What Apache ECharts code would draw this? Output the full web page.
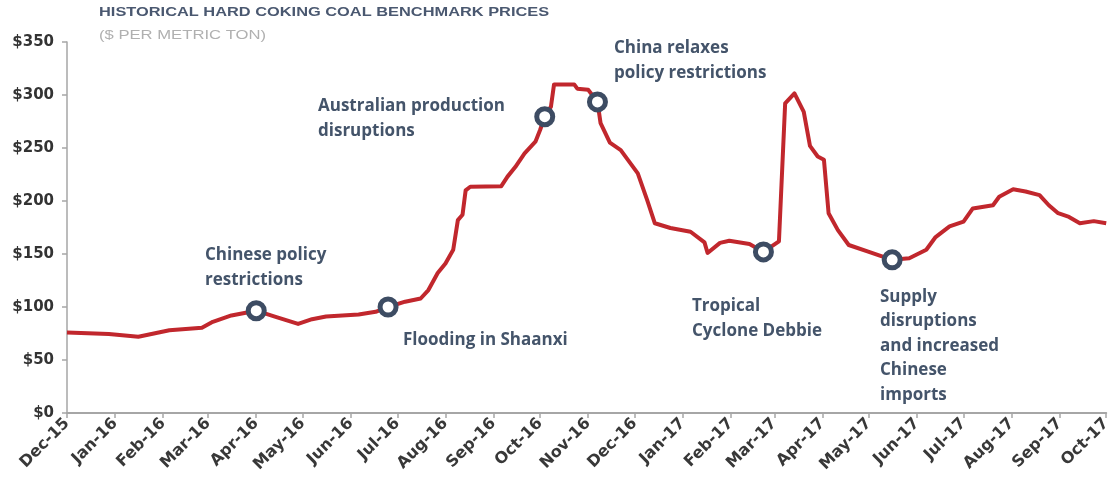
<!DOCTYPE html>
<html>
<head>
<meta charset="utf-8">
<script src="https://cdn.jsdelivr.net/npm/echarts@6/dist/echarts.min.js"></script>
<style>
  html, body { margin: 0; padding: 0; background: #fff; }
  #main { width: 1114px; height: 486px; }
</style>
</head>
<body>
<div id="main"></div>
<script>
// weekly-ish benchmark readings (US$ per metric ton)
const dates = [
  "2015-12-01", "2015-12-28", "2016-01-16", "2016-02-05", "2016-02-26", "2016-03-04",
  "2016-03-16", "2016-04-01", "2016-04-13", "2016-04-28", "2016-05-07", "2016-05-16",
  "2016-06-06", "2016-06-17", "2016-06-25", "2016-07-06", "2016-07-16", "2016-07-21",
  "2016-07-27", "2016-08-01", "2016-08-06", "2016-08-09", "2016-08-12", "2016-08-14",
  "2016-08-17", "2016-09-06", "2016-09-10", "2016-09-15", "2016-09-21", "2016-09-28",
  "2016-10-01", "2016-10-04", "2016-10-08", "2016-10-10", "2016-10-23", "2016-10-25",
  "2016-11-01", "2016-11-07", "2016-11-09", "2016-11-15", "2016-11-22", "2016-12-03",
  "2016-12-09", "2016-12-14", "2016-12-24", "2017-01-06", "2017-01-15", "2017-01-17",
  "2017-01-25", "2017-01-31", "2017-02-13", "2017-02-22", "2017-03-04", "2017-03-08",
  "2017-03-14", "2017-03-20", "2017-03-24", "2017-03-29", "2017-04-02", "2017-04-05",
  "2017-04-11", "2017-04-18", "2017-05-01", "2017-05-16", "2017-05-27", "2017-06-07",
  "2017-06-13", "2017-06-22", "2017-07-01", "2017-07-07", "2017-07-20", "2017-07-24",
  "2017-08-02", "2017-08-10", "2017-08-19", "2017-08-25", "2017-08-31", "2017-09-07",
  "2017-09-14", "2017-09-23", "2017-10-01"
];
const prices = [
  76, 74.5, 72, 78, 80.5, 86,
  92, 96.5, 91, 84, 88.5, 91,
  93, 95.5, 100, 105, 108, 116,
  132, 141, 154, 182, 187, 210,
  213.5, 214, 223, 232, 245, 256,
  267, 279.5, 289, 310, 310, 306,
  305, 293.5, 273.5, 255, 248, 226,
  201, 179, 174.5, 171, 161, 151,
  160.5, 162.5, 159.5, 152, 162, 292,
  301.5, 284, 252, 242, 239, 188.5,
  172.5, 158.5, 152, 144.5, 146, 154,
  166, 176, 180.5, 193, 196, 204,
  211, 209, 205.5, 196, 188.5, 185,
  179, 181, 179
];

// events marked with rings
const eventDates = ["2016-04-01", "2016-06-25", "2016-10-04", "2016-11-07", "2017-02-22", "2017-05-16"];
const eventPrices = [96.5, 100, 279.5, 293.5, 152, 144.5];
const eventNotes = [
  "Chinese policy\nrestrictions",
  "Flooding in Shaanxi",
  "Australian production\ndisruptions",
  "China relaxes\npolicy restrictions",
  "Tropical\nCyclone Debbie",
  "Supply\ndisruptions\nand increased\nChinese\nimports"
];
const notePos = [[205, 243], [403, 328], [318, 94], [614, 36], [692, 294], [880, 285]];

const yTicks = [0, 50, 100, 150, 200, 250, 300, 350];
const monthNames = ["Jan", "Feb", "Mar", "Apr", "May", "Jun", "Jul", "Aug", "Sep", "Oct", "Nov", "Dec"];

const noteColor = "#44546a";

let graphics = [
  {
    type: "text", left: 99, top: 6, scaleX: 1.26,
    style: { text: "HISTORICAL HARD COKING COAL BENCHMARK PRICES", font: "bold 13px Arial, 'Liberation Sans'", fill: "#4a5870" }
  },
  {
    type: "text", left: 99, top: 29, scaleX: 1.28,
    style: { text: "($ PER METRIC TON)", font: "13px Arial, 'Liberation Sans'", fill: "#b0b0b0" }
  }
];
eventNotes.forEach((t, i) => {
  graphics.push({
    type: "text",
    left: notePos[i][0],
    top: notePos[i][1],
    style: {
      text: t,
      font: "bold 17px 'Open Sans'",
      fill: noteColor,
      lineHeight: i === 5 ? 24.4 : 24.5
    }
  });
});

const option = {
  animation: false,
  backgroundColor: "#fff",
  grid: { left: 67, right: 4, top: 42, bottom: 73, containLabel: false },
  xAxis: {
    type: "time",
    min: "2015-12-01",
    max: "2017-10-01",
    splitNumber: 22,
    minInterval: 28 * 86400000,
    maxInterval: 31 * 86400000,
    axisLine: { lineStyle: { color: "#a6a6a6", width: 2 } },
    axisTick: { show: true, length: 5, lineStyle: { color: "#a6a6a6", width: 1.5 } },
    splitLine: { show: false },
    axisLabel: {
      rotate: 45,
      margin: 8,
      color: "#383838",
      fontFamily: "DejaVu Sans",
      fontWeight: "bold",
      fontSize: 16,
      hideOverlap: false,
      showMinLabel: true,
      showMaxLabel: true,
      formatter: function (v) {
        const d = new Date(v);
        return monthNames[d.getMonth()] + "-" + String(d.getFullYear()).slice(2);
      }
    }
  },
  yAxis: {
    type: "value",
    min: yTicks[0],
    max: yTicks[yTicks.length - 1],
    interval: 50,
    axisLine: { show: true, lineStyle: { color: "#a6a6a6", width: 1.5 } },
    axisTick: { show: true, length: 5, lineStyle: { color: "#a6a6a6", width: 1.5 } },
    splitLine: { show: false },
    axisLabel: {
      margin: 13,
      color: "#333",
      fontFamily: "DejaVu Sans",
      fontWeight: "bold",
      fontSize: 15,
      formatter: "${value}"
    }
  },
  series: [
    {
      type: "line",
      data: dates.map((d, i) => [d, prices[i]]),
      symbol: "none",
      lineStyle: { color: "#c1272d", width: 4, join: "round" },
      z: 2
    },
    {
      type: "scatter",
      data: eventDates.map((d, i) => [d, eventPrices[i]]),
      symbol: "circle",
      symbolSize: 16,
      itemStyle: { color: "#fff", borderColor: "#3d4c63", borderWidth: 5, opacity: 1 },
      z: 3
    }
  ],
  graphic: graphics
};

const myChart = echarts.init(document.getElementById("main"));
myChart.setOption(option);
</script>
</body>
</html>
